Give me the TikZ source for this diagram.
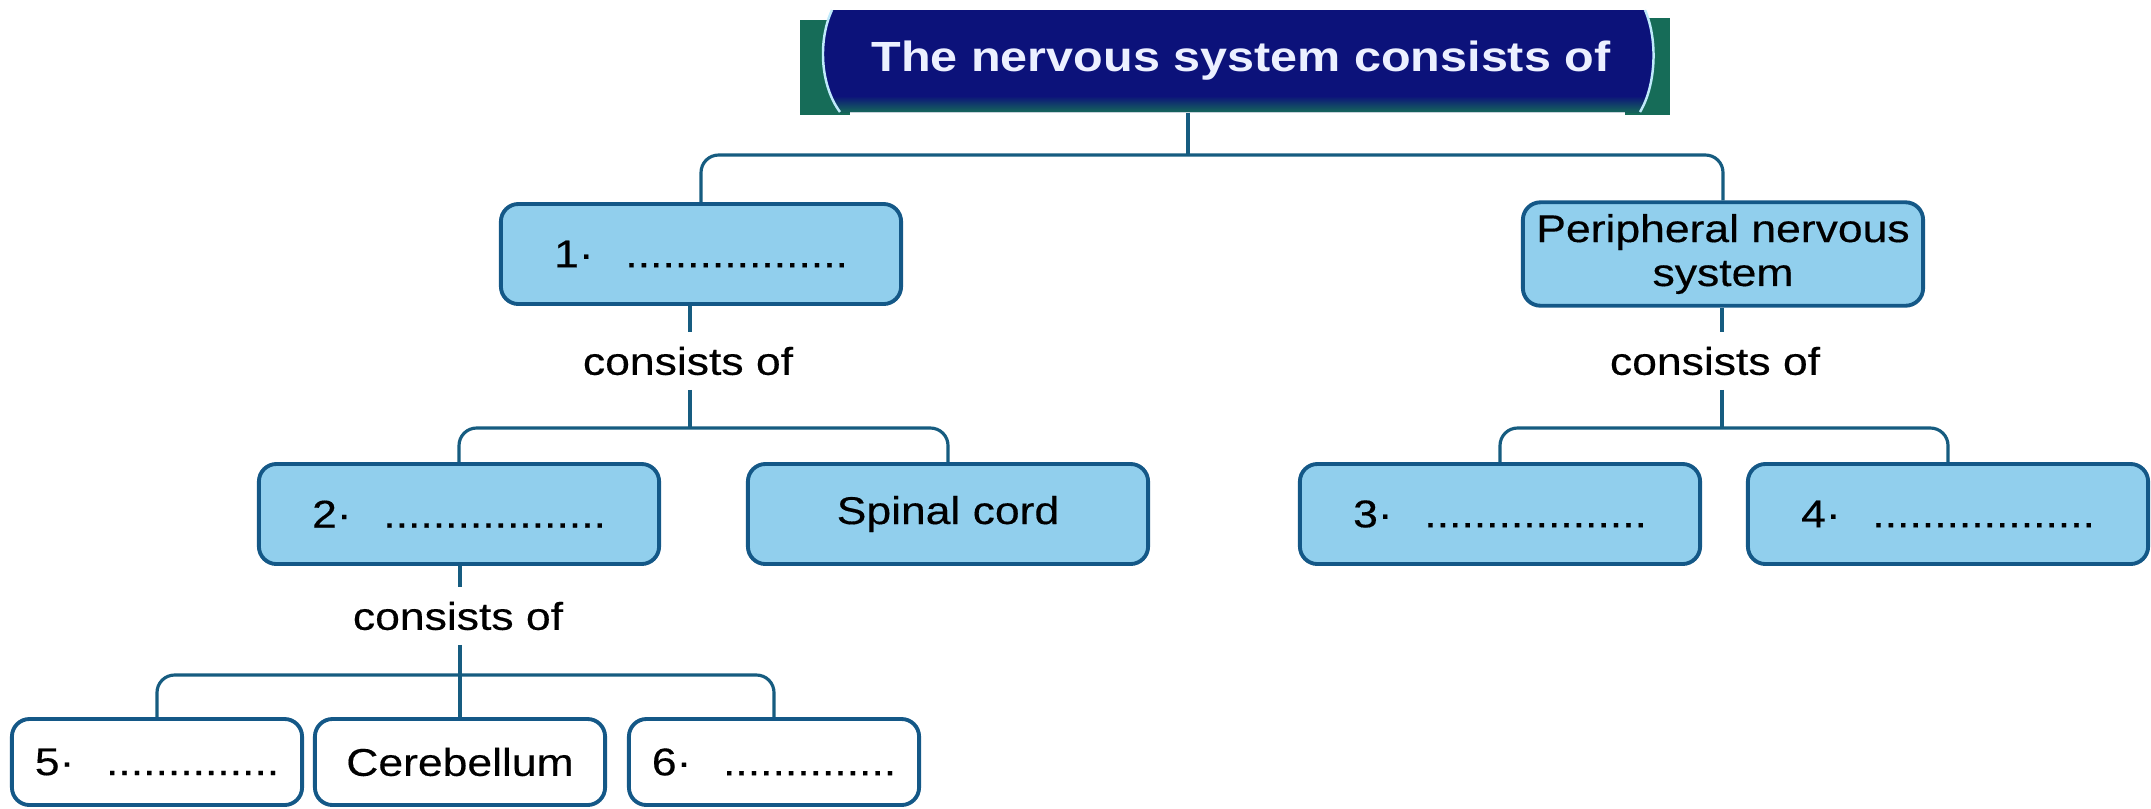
\documentclass[tikz,border=0pt]{standalone}
\usepackage{fontspec}
\setmainfont{Liberation Sans}[FakeStretch=1.15]
\newfontfamily\boxfont{Liberation Sans}[FakeStretch=1.15,FakeBold=0.35]
\definecolor{linecol}{RGB}{22,92,128}
\definecolor{boxdraw}{RGB}{20,88,135}
\definecolor{boxfill}{RGB}{145,207,237}
\definecolor{bannerblue}{RGB}{12,18,122}
\definecolor{bannergreen}{RGB}{22,108,88}
\definecolor{titletext}{RGB}{236,240,255}
\begin{document}
\begin{tikzpicture}[x=0.01cm,y=-0.01cm,
    conn/.style={draw=linecol,line width=0.9pt,rounded corners=5pt},
    bluebox/.style={draw=boxdraw,fill=boxfill,line width=1.1pt,rounded corners=5pt,
      minimum width=4cm,minimum height=1cm,align=center,
      font=\boxfont\fontsize{11}{12.5}\selectfont},
    whitebox/.style={bluebox,fill=white,minimum width=2.9cm,minimum height=0.86cm},
    link/.style={inner sep=4pt,font=\boxfont\fontsize{11}{12.5}\selectfont}]
  \useasboundingbox (0,0) rectangle (2151,808);
  % banner
  \fill[bannergreen] (800,20) rectangle (850,115);
  \fill[bannergreen] (1625,18) rectangle (1670,115);
  \fill[bannerblue] (832,10) .. controls (818,40) and (820,85) .. (840,112)
    -- (1640,112) .. controls (1656,85) and (1658,40) .. (1645,10) -- cycle;
  \begin{scope}
    \clip (832,10) .. controls (818,40) and (820,85) .. (840,112)
      -- (1640,112) .. controls (1656,85) and (1658,40) .. (1645,10) -- cycle;
    \shade[top color=bannerblue,bottom color=bannergreen] (800,96) rectangle (1670,113);
  \end{scope}
  \draw[white!75!cyan,line width=0.7pt] (832,10) .. controls (818,40) and (820,85) .. (840,112);
  \draw[white!75!cyan,line width=0.7pt] (1645,10) .. controls (1658,40) and (1656,85) .. (1640,112);
  \node[minimum width=8.1cm,minimum height=1.02cm,text=titletext,
        font=\fontsize{12}{14}\selectfont\bfseries] (title) at (1241,61)
        {The nervous system consists of};
  % boxes
  \node[bluebox] (box1) at (701,254) {1\textperiodcentered\hspace{9pt}..................};
  \node[bluebox] (periph) at (1723,254) {Peripheral nervous\\system};
  \node[bluebox] (box2) at (459,514) {2\textperiodcentered\hspace{9pt}..................};
  \node[bluebox] (spinal) at (948,514) {Spinal cord};
  \node[bluebox] (box3) at (1500,514) {3\textperiodcentered\hspace{9pt}..................};
  \node[bluebox] (box4) at (1948,514) {4\textperiodcentered\hspace{9pt}..................};
  \node[whitebox] (box5) at (157,762) {5\textperiodcentered\hspace{9pt}..............};
  \node[whitebox] (cereb) at (460,762) {Cerebellum};
  \node[whitebox] (box6) at (774,762) {6\textperiodcentered\hspace{9pt}..............};
  % consists of
  \node[link] (cons1) at (688,361) {consists of};
  \node[link] (cons2) at (458,616) {consists of};
  \node[link] (cons3) at (1715,361) {consists of};
  \coordinate (top) at (1188,155);
  \coordinate (join1) at (690,428);
  \coordinate (join2) at (460,675);
  \coordinate (join3) at (1722,428);
  % connectors
  \draw[conn] (title.south -| top) -- (top);
  \draw[conn] (box1.north) |- (top) -| (periph.north);
  \draw[conn] (box1.south -| join1) -- (cons1.north -| join1);
  \draw[conn] (cons1.south -| join1) -- (join1);
  \draw[conn] (box2.north) |- (join1) -| (spinal.north);
  \draw[conn] (box2.south -| join2) -- (cons2.north -| join2);
  \draw[conn] (cons2.south -| join2) -- (join2);
  \draw[conn] (box5.north) |- (join2) -| (box6.north);
  \draw[conn] (join2) -- (cereb.north);
  \draw[conn] (periph.south -| join3) -- (cons3.north -| join3);
  \draw[conn] (cons3.south -| join3) -- (join3);
  \draw[conn] (box3.north) |- (join3) -| (box4.north);
\end{tikzpicture}
\end{document}
